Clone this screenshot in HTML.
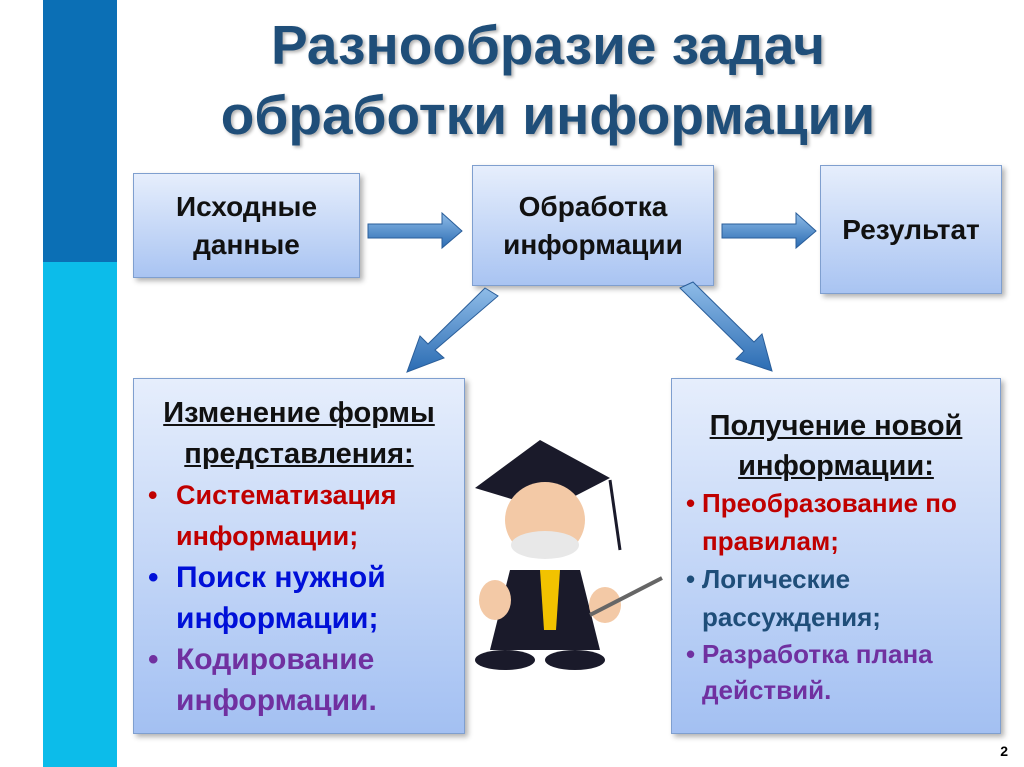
<!DOCTYPE html>
<html><head><meta charset="utf-8"><style>
body{margin:0;width:1024px;height:767px;background:#fff;position:relative;overflow:hidden;font-family:"Liberation Sans","DejaVu Sans",sans-serif;}
.bar1{position:absolute;left:43px;top:0;width:74px;height:262px;background:#0b6fb5}
.bar2{position:absolute;left:43px;top:262px;width:74px;height:505px;background:#0cbcea}
h1{position:absolute;left:110px;width:876px;top:10px;margin:0;text-align:center;font-size:55px;line-height:70px;color:#1f4e79;font-weight:bold;text-shadow:2px 2px 3px rgba(0,0,0,.3);white-space:nowrap}
.box{position:absolute;border:1px solid #7f9fcf;background:linear-gradient(#e6eefc,#a9c4f2);box-shadow:3px 3px 5px rgba(0,0,0,.3);text-align:center;font-weight:bold;color:#111;display:flex;align-items:center;justify-content:center;font-size:28px;line-height:38px;white-space:nowrap}
.big{position:absolute;border:1px solid #7f9fcf;background:linear-gradient(#e6eefc,#a3c0f2);box-shadow:3px 3px 5px rgba(0,0,0,.3);font-weight:bold;white-space:nowrap}
.h{text-align:center;text-decoration:underline;color:#111;font-size:29px}
.it{position:relative}
.it:before{content:"•";position:absolute;left:-28px}
.rt .it:before{left:-16px}
.r{color:#c00000}.b{color:#0010d8}.p{color:#7030a0}.d{color:#1f4e79}
.nb{position:absolute;right:16px;bottom:8px;font-size:14px;font-weight:bold}
</style></head><body>
<div class="bar1"></div><div class="bar2"></div>
<h1>Разнообразие задач<br>обработки информации</h1>
<div class="box" style="left:133px;top:173px;width:225px;height:103px">Исходные<br>данные</div>
<div class="box" style="left:472px;top:165px;width:240px;height:119px">Обработка<br>информации</div>
<div class="box" style="left:820px;top:165px;width:180px;height:127px">Результат</div>
<svg style="position:absolute;left:0;top:0" width="1024" height="767">
<defs><linearGradient id="g" x1="0" y1="0" x2="0" y2="1"><stop offset="0" stop-color="#8fbce8"/><stop offset="1" stop-color="#2b6cb3"/></linearGradient></defs>
<polygon points="368,224 442,224 442,213 462,231 442,248 442,238 368,238" fill="url(#g)" stroke="#2a5e9a"/>
<polygon points="722,224 796,224 796,213 816,231 796,248 796,238 722,238" fill="url(#g)" stroke="#2a5e9a"/>
<polygon points="485,288 498,296 435,350 444,358 407,372 420,336 428,344" fill="url(#g)" stroke="#2a5e9a"/>
<polygon points="680,288 693,282 754,342 762,334 772,371 736,359 744,351" fill="url(#g)" stroke="#2a5e9a"/>
<g>
<polygon points="475,488 540,440 610,478 548,510" fill="#1a1a2a"/>
<ellipse cx="545" cy="520" rx="40" ry="38" fill="#f3c9a6"/>
<ellipse cx="545" cy="545" rx="34" ry="14" fill="#e8e8e8"/>
<path d="M510,570 L580,570 L600,650 L490,650 Z" fill="#1a1a2a"/>
<polygon points="540,570 560,570 556,630 544,630" fill="#f2c200"/>
<ellipse cx="495" cy="600" rx="16" ry="20" fill="#f3c9a6"/>
<ellipse cx="605" cy="605" rx="16" ry="18" fill="#f3c9a6"/>
<line x1="590" y1="615" x2="662" y2="578" stroke="#666" stroke-width="4"/>
<ellipse cx="505" cy="660" rx="30" ry="10" fill="#1a1a2a"/>
<ellipse cx="575" cy="660" rx="30" ry="10" fill="#1a1a2a"/>
<line x1="610" y1="480" x2="620" y2="550" stroke="#1a1a2a" stroke-width="3"/>
</g>
</svg>
<div class="big" style="left:133px;top:378px;width:330px;height:354px;line-height:41px">
<div class="h" style="margin-top:14px">Изменение формы<br>представления:</div>
<div style="padding-left:42px">
<div class="it r" style="font-size:27px">Систематизация<br>информации;</div>
<div class="it b" style="font-size:30px">Поиск нужной<br>информации;</div>
<div class="it p" style="font-size:30px">Кодирование<br>информации.</div>
</div></div>
<div class="big rt" style="left:671px;top:378px;width:328px;height:354px;line-height:38px">
<div class="h" style="margin-top:27px;line-height:40px">Получение новой<br>информации:</div>
<div style="padding-left:30px;font-size:26px;margin-top:-2px">
<div class="it r">Преобразование по<br>правилам;</div>
<div class="it d">Логические<br>рассуждения;</div>
<div class="it p" style="line-height:36px">Разработка плана<br>действий.</div>
</div></div>
<div class="nb">2</div>
</body></html>
